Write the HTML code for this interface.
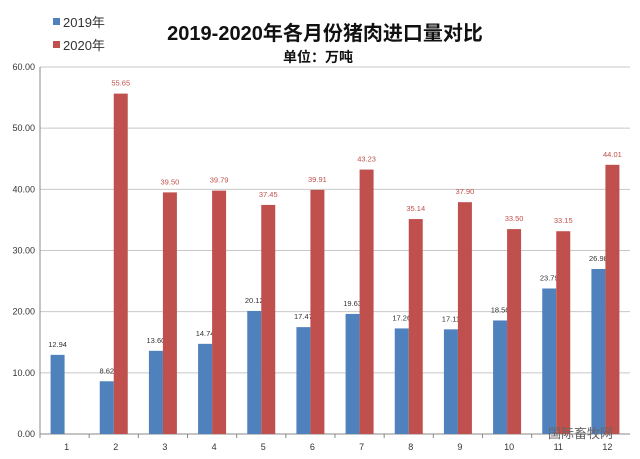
<!DOCTYPE html>
<html><head><meta charset="utf-8"><style>
body{margin:0;background:#fff;}
svg{display:block;font-family:"Liberation Sans","Noto Sans CJK SC",sans-serif;}
</style></head><body>
<svg id="chart" width="640" height="459" viewBox="0 0 640 459">
<text x="325" y="40" text-anchor="middle" font-size="20" font-weight="bold" fill="#111">2019-2020年各月份猪肉进口量对比</text>
<text x="318" y="62" text-anchor="middle" font-size="14" font-weight="bold" fill="#111">单位：万吨</text>
<g>
<rect x="53" y="18" width="7" height="7" fill="#4f81bd"/>
<text x="63" y="27" font-size="13" fill="#333">2019年</text>
<rect x="53" y="41" width="7" height="7" fill="#c0504d"/>
<text x="63" y="50" font-size="13" fill="#333">2020年</text>
</g>
<g id="grid"></g><g id="bars"></g><g id="axes"></g>
<text x="548" y="438" font-size="13" fill="#666">国际畜牧网</text>
</svg>
<script>
const categories=["1","2","3","4","5","6","7","8","9","10","11","12"];
const values2019=[12.94,8.62,13.60,14.74,20.12,17.47,19.63,17.26,17.11,18.56,23.79,26.98];
const values2020=[null,55.65,39.50,39.79,37.45,39.91,43.23,35.14,37.90,33.50,33.15,44.01];
const yTicks=[0,10,20,30,40,50,60];
const NS="http://www.w3.org/2000/svg";
const x0=40,x1=630,y0=434,y1=67,yMax=60;
const band=(x1-x0)/categories.length;
function yS(v){return y0-(v/yMax)*(y0-y1);}
function xS(i){return x0+band*(i+0.5);}
function mk(tag,attrs,parent,text){const e=document.createElementNS(NS,tag);for(const k in attrs)e.setAttribute(k,attrs[k]);if(text!=null)e.textContent=text;parent.appendChild(e);return e;}
const grid=document.getElementById('grid'),bars=document.getElementById('bars'),axes=document.getElementById('axes');
yTicks.forEach(t=>{
 const y=yS(t);
 const l=mk('line',{x1:x0,x2:x1,y1:y,y2:y,stroke:t===0?'#888':'#c8c8c8','stroke-width':1},grid);
 
 
 const tx=mk('text',{x:35,y:y+3,'text-anchor':'end','font-size':9,fill:'#333'},axes,t.toFixed(2));
 
 
});
mk('line',{x1:x0,x2:x0,y1:y1,y2:y0,stroke:'#888'},axes);
const bw=14;
categories.forEach((c,i)=>{
 const cx=xS(i);
 const tk=mk('line',{x1:x0+band*i,x2:x0+band*i,y1:y0,y2:y0+4,stroke:'#888'},axes);
 
 
 const lb=mk('text',{x:cx+2,y:y0+16,'text-anchor':'middle','font-size':9,fill:'#333'},axes,c);
 
 
 const v1=values2019[i];
 if(v1!=null){
  const b=mk('rect',{x:cx-bw,y:yS(v1),width:bw,height:y0-yS(v1),fill:'#4f81bd'},bars);
  
  
  const t=mk('text',{x:cx-bw/2,y:yS(v1)-8,'text-anchor':'middle','font-size':7.5,fill:'#333'},bars,v1.toFixed(2));
  
  
 }
 const v2=values2020[i];
 if(v2!=null){
  const b=mk('rect',{x:cx,y:yS(v2),width:bw,height:y0-yS(v2),fill:'#c0504d'},bars);
  
  
  const t=mk('text',{x:cx+bw/2,y:yS(v2)-8,'text-anchor':'middle','font-size':7.5,fill:'#c0504d'},bars,v2.toFixed(2));
  
  
 }
});
</script>
</body></html>
